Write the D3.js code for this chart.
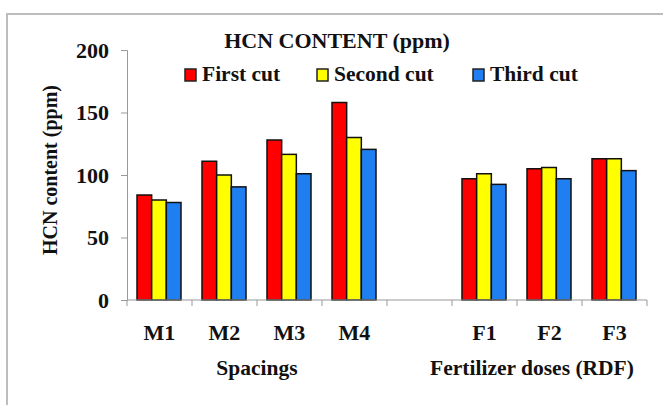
<!DOCTYPE html>
<html>
<head>
<meta charset="utf-8">
<script src="https://cdn.jsdelivr.net/npm/d3@7"></script>
<style>
  html, body { margin: 0; padding: 0; background: #ffffff; }
  svg { display: block; }
  svg text { font-family: 'Liberation Serif', 'Times New Roman', Times, 'DejaVu Serif', serif !important; font-weight: 700; fill: #111; }
</style>
</head>
<body>
<svg id="chart" width="663" height="405"></svg>
<script>
const categories = ["M1", "M2", "M3", "M4", "", "F1", "F2", "F3"];
const seriesNames = ["First cut", "Second cut", "Third cut"];
const firstCut  = [84, 111, 128, 158, null, 97, 105, 113];
const secondCut = [80, 100, 116.5, 130, null, 101, 106, 113];
const thirdCut  = [78, 90.5, 101, 120.5, null, 92.5, 97, 103.5];
const yTicks = [0, 50, 100, 150, 200];
const groupLabels = ["Spacings", "Fertilizer doses (RDF)"];

const colors = ["#ff0000", "#ffff00", "#1f7ff0"];
const seriesValues = [firstCut, secondCut, thirdCut];
const FONT = "'Liberation Serif', 'Times New Roman', Times, serif";

const svg = d3.select("#chart");

svg.append("rect")
  .attr("x", 7).attr("y", 14).attr("width", 700).attr("height", 500)
  .attr("fill", "none").attr("stroke", "#bdbdbd").attr("stroke-width", 2);

const plot = { left: 127, right: 647, top: 50, bottom: 300 };

const x0 = d3.scaleBand()
  .domain(d3.range(categories.length))
  .range([plot.left, plot.right])
  .padding(0);

const x1 = d3.scaleBand()
  .domain(d3.range(seriesNames.length))
  .range([10, x0.bandwidth() - 11])
  .padding(0);

const y = d3.scaleLinear().domain([0, 200]).range([plot.bottom, plot.top]);

const data = [];
categories.forEach((c, i) => {
  seriesValues.forEach((vals, s) => {
    if (vals[i] != null) data.push({ i, s, v: vals[i] });
  });
});

svg.append("g").selectAll("rect")
  .data(data)
  .join("rect")
  .attr("x", d => x0(d.i) + x1(d.s))
  .attr("y", d => y(d.v))
  .attr("width", x1.bandwidth())
  .attr("height", d => y(0) - y(d.v))
  .attr("fill", d => colors[d.s])
  .attr("stroke", "#111")
  .attr("stroke-width", 1.5);

const yAxis = d3.axisLeft(y).tickValues(yTicks).tickSize(6).tickPadding(12);
const gy = svg.append("g").attr("transform", `translate(${plot.left},0)`).call(yAxis)
  .attr("font-family", FONT).attr("font-size", 22);
gy.select(".domain").attr("stroke", "#999").attr("stroke-width", 1);
gy.selectAll(".tick line").attr("stroke", "#999");
gy.selectAll(".tick text").attr("fill", "#111").style("font-size", "22px");

const xAxisLine = svg.append("g");
xAxisLine.append("line")
  .attr("x1", plot.left).attr("x2", plot.right)
  .attr("y1", plot.bottom).attr("y2", plot.bottom)
  .attr("stroke", "#999").attr("stroke-width", 1);
xAxisLine.selectAll("line.tk")
  .data(d3.range(categories.length + 1))
  .join("line")
  .attr("class", "tk")
  .attr("x1", i => i < categories.length ? x0(i) : plot.right)
  .attr("x2", i => i < categories.length ? x0(i) : plot.right)
  .attr("y1", plot.bottom).attr("y2", plot.bottom + 6)
  .attr("stroke", "#999");

const txt = (sel, size) => sel.attr("font-family", FONT).attr("font-weight", "bold").style("font-size", size + "px");

txt(svg.append("g").selectAll("text")
  .data(categories.map((c, i) => ({ c, i })))
  .join("text")
  .attr("x", d => x0(d.i) + x0.bandwidth() / 2)
  .attr("y", 340)
  .attr("text-anchor", "middle"), 22)
  .text(d => d.c);

const mCenter = (x0(0) + x0(3) + x0.bandwidth()) / 2;
txt(svg.append("text")
  .attr("x", mCenter).attr("y", 375)
  .attr("text-anchor", "middle"), 21.5)
  .text(groupLabels[0]);
txt(svg.append("text")
  .attr("x", x0(5) + 80).attr("y", 375)
  .attr("text-anchor", "middle"), 21.5)
  .text(groupLabels[1]);

txt(svg.append("text")
  .attr("transform", "translate(57,170) rotate(-90)")
  .attr("text-anchor", "middle"), 20)
  .text("HCN content (ppm)");

txt(svg.append("text")
  .attr("x", 337).attr("y", 48)
  .attr("text-anchor", "middle"), 22)
  .text("HCN CONTENT (ppm)");

const legendPos = [185, 317, 473];
const lg = svg.append("g").selectAll("g")
  .data(seriesNames.map((n, i) => ({ n, i })))
  .join("g")
  .attr("transform", d => `translate(${legendPos[d.i]},0)`);
lg.append("rect")
  .attr("x", 0).attr("y", 69).attr("width", 11).attr("height", 12)
  .attr("fill", d => colors[d.i]).attr("stroke", "#222").attr("stroke-width", 1.5);
txt(lg.append("text")
  .attr("x", 17).attr("y", 81), 21.5)
  .text(d => d.n);
</script>
</body>
</html>
